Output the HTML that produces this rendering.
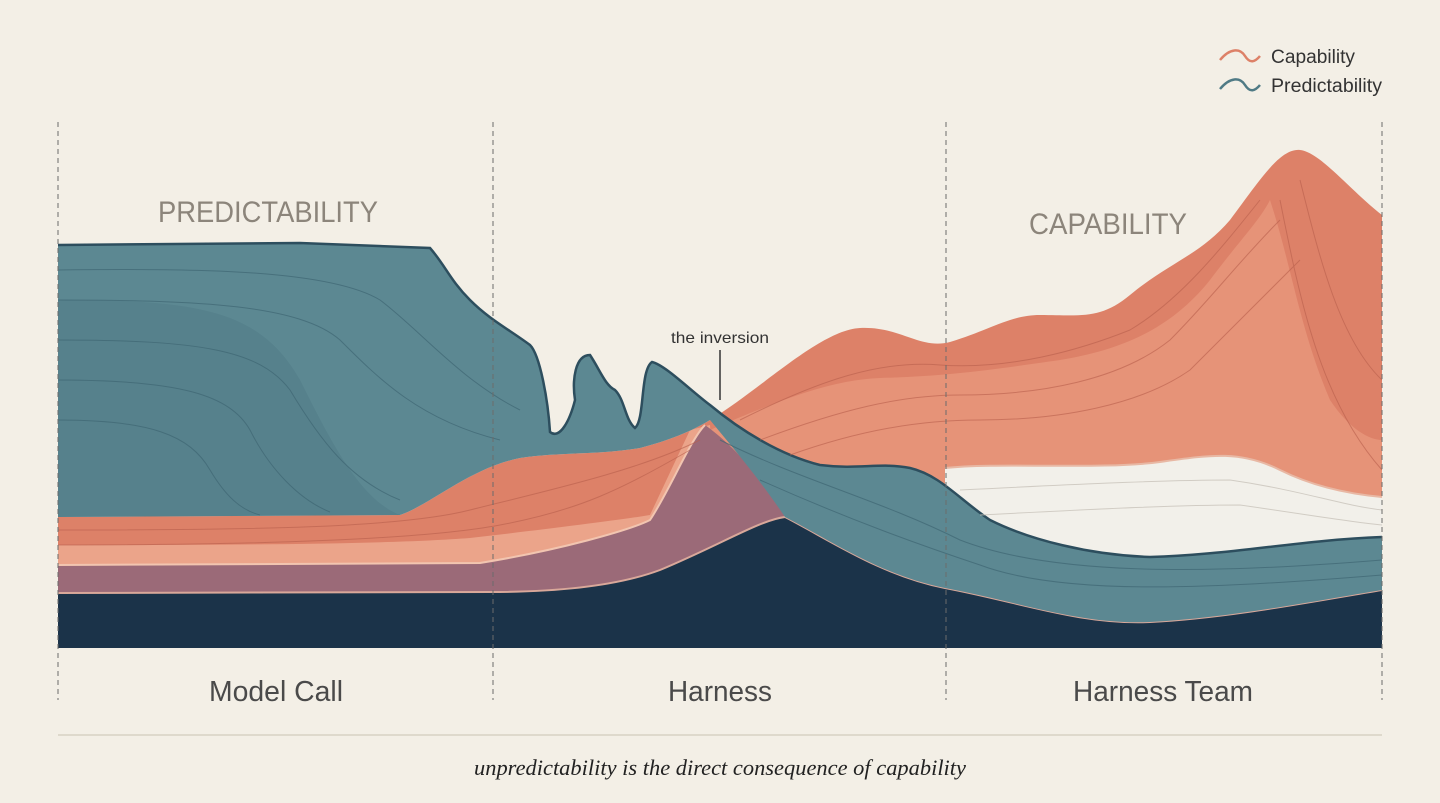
<!DOCTYPE html>
<html><head><meta charset="utf-8"><style>
html,body{margin:0;padding:0;background:#f3efe6;}
svg{display:block}
</style></head><body>
<svg width="1440" height="803" viewBox="0 0 1440 803" xmlns="http://www.w3.org/2000/svg">
<rect width="1440" height="803" fill="#f3efe6"/>
<!-- salmon capability -->
<path d="M58,517 L400,515 C430,505 470,468 520,458 C560,452 600,455 640,448 C670,440 690,432 710,420 C760,390 820,330 860,328 C900,326 920,350 950,342 C990,330 1010,315 1040,315 C1080,315 1100,320 1130,295 C1170,262 1200,255 1230,220 C1260,180 1280,148 1300,150 C1320,152 1350,190 1382,215 L1382,600 L58,600 Z" fill="#dd8168"/>
<path d="M710,430 C780,400 830,380 880,378 C950,376 990,370 1060,360 C1120,350 1170,330 1210,280 C1240,240 1260,220 1270,200 C1290,260 1300,330 1330,400 C1350,430 1370,440 1382,440 L1382,600 L710,600 Z" fill="#e9977c" opacity="0.8"/>
<path d="M58,545 C200,545 380,545 470,538 C540,530 620,520 650,515 L690,430 L710,425 L720,600 L58,600Z" fill="#eba48a"/>
<!-- white band -->
<path d="M945,468 C1000,462 1100,470 1160,462 C1210,455 1240,450 1280,470 C1320,490 1360,495 1382,497 L1382,560 L945,560 Z" fill="#f2f0ea"/>
<path d="M945,468 C1000,462 1100,470 1160,462 C1210,455 1240,450 1280,470 C1320,490 1360,495 1382,497" fill="none" stroke="#e8b8a4" stroke-width="2"/>
<!-- mauve -->
<path d="M58,565 L480,563 C560,550 630,530 650,520 C670,490 690,440 705,425 C740,450 770,490 785,517 C760,560 700,590 600,592 L58,593 Z" fill="#9b6a78"/>
<path d="M58,565 L480,563 C560,550 630,530 650,520 C670,490 690,440 705,425" fill="none" stroke="#f2c5b0" stroke-width="2"/>
<!-- navy -->
<path d="M58,593 L490,592 C560,592 620,585 660,570 C720,545 760,520 785,517 C830,540 880,575 945,588 C1020,602 1080,625 1150,622 C1230,618 1320,600 1382,590 L1382,648 L58,648 Z" fill="#1b3349"/>
<path d="M58,593 L490,592 C560,592 620,585 660,570 C720,545 760,520 785,517 C830,540 880,575 945,588 C1020,602 1080,625 1150,622 C1230,618 1320,600 1382,590" fill="none" stroke="#d9a89a" stroke-width="2"/>
<!-- teal -->
<path d="M58,245 L300,243 L430,248 C445,265 450,280 470,300 C490,320 510,330 530,345 C540,355 548,400 550,432 C560,440 570,420 575,400 C572,380 575,355 590,355 C600,370 605,385 615,390 C625,400 625,420 635,428 C645,420 640,370 652,362 C665,365 690,390 710,405 C740,430 780,455 820,465 C860,470 880,462 910,468 C940,475 960,500 990,520 C1030,540 1090,555 1150,557 C1230,555 1300,540 1382,537 L1382,590 C1320,600 1230,618 1150,622 C1080,625 1020,602 945,588 C880,575 830,540 785,517 C760,480 735,450 710,420 C690,432 670,440 640,448 C600,455 560,452 520,458 C470,468 430,505 400,515 L58,517 Z" fill="#5c8892"/>
<path d="M58,245 L300,243 L430,248 C445,265 450,280 470,300 C490,320 510,330 530,345 C540,355 548,400 550,432 C560,440 570,420 575,400 C572,380 575,355 590,355 C600,370 605,385 615,390 C625,400 625,420 635,428 C645,420 640,370 652,362 C665,365 690,390 710,405 C740,430 780,455 820,465 C860,470 880,462 910,468 C940,475 960,500 990,520 C1030,540 1090,555 1150,557 C1230,555 1300,540 1382,537" fill="none" stroke="#2d4e5e" stroke-width="2.5"/>
<path d="M58,300 C200,300 260,310 300,380 C330,440 360,500 400,515 L58,517Z" fill="#4f7a85" opacity="0.5"/>
<!-- contour lines -->
<g fill="none" stroke="#3f6673" stroke-width="1" opacity="0.7">
<path d="M58,270 C200,268 330,270 380,300 C420,330 460,380 520,410"/>
<path d="M58,300 C200,300 300,305 340,340 C380,380 420,420 500,440"/>
<path d="M58,340 C200,340 260,350 290,390 C320,440 350,480 400,500"/>
<path d="M58,380 C180,380 230,395 250,430 C270,470 300,500 330,512"/>
<path d="M58,420 C150,420 190,435 210,470 C225,495 240,510 260,515"/>
<path d="M720,440 C800,480 880,500 960,540 C1050,575 1200,575 1382,560"/>
<path d="M760,480 C850,520 920,545 980,565 C1060,595 1200,590 1382,575"/>
</g>
<g fill="none" stroke="#b85f4c" stroke-width="1" opacity="0.6">
<path d="M58,530 C250,530 400,528 470,510 C550,490 640,470 700,440"/>
<path d="M58,545 C250,545 420,540 500,525 C580,510 620,490 690,450"/>
<path d="M740,420 C820,380 880,360 940,365 C1010,370 1080,350 1130,330 C1180,300 1220,250 1260,200"/>
<path d="M760,440 C840,410 900,395 960,395 C1040,395 1120,380 1170,340 C1210,300 1240,260 1280,220"/>
<path d="M790,455 C860,430 920,420 980,420 C1060,420 1140,405 1190,370 C1230,330 1260,300 1300,260"/>
<path d="M1280,200 C1300,300 1320,400 1382,470"/>
<path d="M1300,180 C1320,260 1340,340 1382,380"/>
</g>
<g fill="none" stroke="#c9c4bb" stroke-width="1" opacity="0.8">
<path d="M960,490 C1060,485 1160,480 1230,480 C1300,490 1340,505 1382,510"/>
<path d="M980,515 C1080,510 1170,505 1240,505 C1310,515 1350,522 1382,525"/>
</g>
<!-- dashed verticals -->
<g stroke="#6b6b6b" stroke-width="1" stroke-dasharray="5,4">
<line x1="58" y1="122" x2="58" y2="700"/>
<line x1="493" y1="122" x2="493" y2="700"/>
<line x1="946" y1="122" x2="946" y2="700"/>
<line x1="1382" y1="122" x2="1382" y2="700"/>
</g>
<!-- labels -->
<g font-family="Liberation Sans, sans-serif">
<text x="158" y="222" font-size="30" fill="#8c857b" textLength="220" lengthAdjust="spacingAndGlyphs">PREDICTABILITY</text>
<text x="1029" y="234" font-size="30" fill="#8c857b" textLength="158" lengthAdjust="spacingAndGlyphs">CAPABILITY</text>
<text x="671" y="343" font-size="16" fill="#333" textLength="98" lengthAdjust="spacingAndGlyphs">the inversion</text>
<text x="209" y="701" font-size="29" fill="#4a4a4a" textLength="134" lengthAdjust="spacingAndGlyphs">Model Call</text>
<text x="668" y="701" font-size="29" fill="#4a4a4a" textLength="104" lengthAdjust="spacingAndGlyphs">Harness</text>
<text x="1073" y="701" font-size="29" fill="#4a4a4a" textLength="180" lengthAdjust="spacingAndGlyphs">Harness Team</text>
<text x="1271" y="63" font-size="19" fill="#333" textLength="84" lengthAdjust="spacingAndGlyphs">Capability</text>
<text x="1271" y="92" font-size="19" fill="#333" textLength="111" lengthAdjust="spacingAndGlyphs">Predictability</text>
</g>
<line x1="720" y1="350" x2="720" y2="400" stroke="#333" stroke-width="1.5"/>
<path d="M1220,60 C1230,48 1240,48 1245,56 C1250,64 1255,62 1260,56" fill="none" stroke="#dd8168" stroke-width="2.5"/>
<path d="M1220,89 C1230,77 1240,77 1245,85 C1250,93 1255,91 1260,85" fill="none" stroke="#4f7a85" stroke-width="2.5"/>
<line x1="58" y1="735" x2="1382" y2="735" stroke="#d8d2c4" stroke-width="1.5"/>
<text x="474" y="775" font-family="Liberation Serif, serif" font-style="italic" font-size="22" fill="#222" textLength="492" lengthAdjust="spacingAndGlyphs">unpredictability is the direct consequence of capability</text>
</svg>
</body></html>
